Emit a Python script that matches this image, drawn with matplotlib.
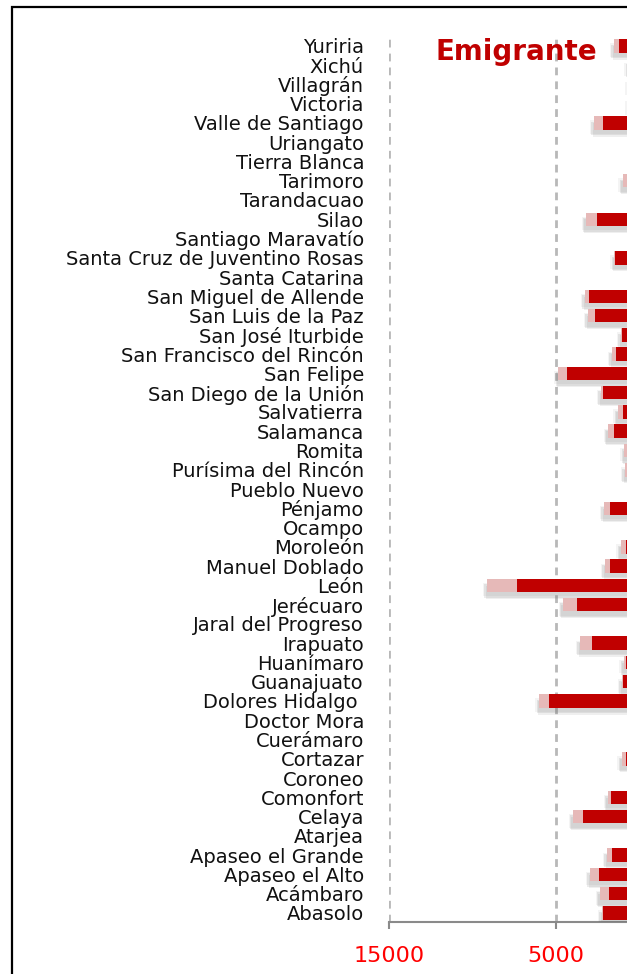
import numpy as np
import matplotlib.pyplot as plt
import matplotlib.patheffects as pe
from matplotlib.patches import Rectangle
from matplotlib.ticker import FuncFormatter

# municipios, de arriba hacia abajo como aparecen en la figura
municipios = ["Yuriria", "Xichú", "Villagrán", "Victoria", "Valle de Santiago",
              "Uriangato", "Tierra Blanca", "Tarimoro", "Tarandacuao", "Silao",
              "Santiago Maravatío", "Santa Cruz de Juventino Rosas", "Santa Catarina",
              "San Miguel de Allende", "San Luis de la Paz", "San José Iturbide",
              "San Francisco del Rincón", "San Felipe", "San Diego de la Unión",
              "Salvatierra", "Salamanca", "Romita", "Purísima del Rincón",
              "Pueblo Nuevo", "Pénjamo", "Ocampo", "Moroleón", "Manuel Doblado",
              "León", "Jerécuaro", "Jaral del Progreso", "Irapuato", "Huanímaro",
              "Guanajuato", "Dolores Hidalgo ", "Doctor Mora", "Cuerámaro",
              "Cortazar", "Coroneo", "Comonfort", "Celaya", "Atarjea",
              "Apaseo el Grande", "Apaseo el Alto", "Acámbaro", "Abasolo"]

# emigrantes (parte oscura) y total con la parte clara
emig_a = [1250, 500, 450, 450, 2170, 350, 300, 750, 200, 2560,
          150, 1470, 150, 3020, 2670, 1050, 1410, 4360, 2200,
          1010, 1530, 750, 700, 150, 1770, 300, 830, 1750,
          7340, 3740, 300, 2840, 830, 1010, 5440, 350, 350,
          810, 200, 1710, 3370, 100, 1670, 2440, 1810, 2170]
emig_total = [1530, 650, 600, 600, 2730, 450, 400, 1010, 250, 3220,
              200, 1500, 200, 3260, 3070, 1100, 1650, 4860, 2300,
              1310, 1900, 910, 870, 200, 2110, 400, 1130, 2050,
              9130, 4600, 400, 3550, 950, 1050, 6000, 450, 450,
              1070, 250, 1900, 4000, 150, 1930, 2950, 2380, 2250]
ticks = [15000, 5000]

dark_red = "#C00000"
pink = "#E6B9B8"

fig = plt.figure(figsize=(6.27, 9.74), dpi=100)

W, H = 627.0, 974.0
x15k, x0 = 389.0, 639.5
px_per_unit = (x0 - x15k) / 15000.0
xmin_val = -3000
ax_w = (15000 - xmin_val) * px_per_unit
y_top, y_bot = 35.0, 922.0
ax = fig.add_axes([x15k / W, 1 - y_bot / H, ax_w / W, (y_bot - y_top) / H])

n = len(municipios)
pos = np.arange(n)[::-1]
a = np.array(emig_a)
tot = np.array(emig_total)
extra = tot - a

# soft drop shadow, mostly below the bars
shadow = [pe.SimplePatchShadow(offset=(-2, -4), shadow_rgbFace="0.4", alpha=0.13),
          pe.SimplePatchShadow(offset=(-1, -5), shadow_rgbFace="0.4", alpha=0.10),
          pe.SimplePatchShadow(offset=(-3, -3), shadow_rgbFace="0.4", alpha=0.07),
          pe.Normal()]

bars1 = ax.barh(pos, a, height=0.7, color=dark_red, zorder=3)
bars2 = ax.barh(pos, extra, left=a, height=0.7, color=pink, zorder=3)
for b1, b2 in zip(bars1, bars2):
    b1.set_path_effects(shadow)
    b2.set_path_effects(shadow)
# redraw on top of the shadows
ax.barh(pos, a, height=0.7, color=dark_red, zorder=4)
ax.barh(pos, extra, left=a, height=0.7, color=pink, zorder=4)

ax.set_yticks(pos)
ax.set_yticklabels(municipios, fontsize=14, family="DejaVu Sans", color="#111111")
ax.tick_params(axis="y", length=0, pad=18)

ax.set_xticks(ticks)
ax.xaxis.set_major_formatter(FuncFormatter(lambda v, p: f"{abs(int(v))}"))
ax.tick_params(axis="x", colors="#8a8a8a", length=5, width=1.5, pad=12,
               labelsize=16, labelcolor="#FF0000")

# limits after ticks so set_xticks does not widen them
ax.set_xlim(15000, xmin_val)
ax.set_ylim(-0.47, (913 - y_top) / 19.27)

for v in ticks:
    ax.axvline(v, color="#B8B8B8", lw=2, ls=(0, (2.8, 2.2)), zorder=1)

for s in ["top", "right", "left"]:
    ax.spines[s].set_visible(False)
ax.spines["bottom"].set_color("#8a8a8a")
ax.spines["bottom"].set_linewidth(1.5)

fig.text(516 / W, 1 - 52 / H, "Emigrante", color=dark_red, fontsize=20,
         fontweight="bold", family="DejaVu Sans", ha="center", va="center")

fig.patches.append(Rectangle((12 / W, -0.1), 1.2, 1.1 - 7 / H, transform=fig.transFigure,
                             fill=False, edgecolor="black", lw=1.6))

fig.savefig("out.png", dpi=100)
